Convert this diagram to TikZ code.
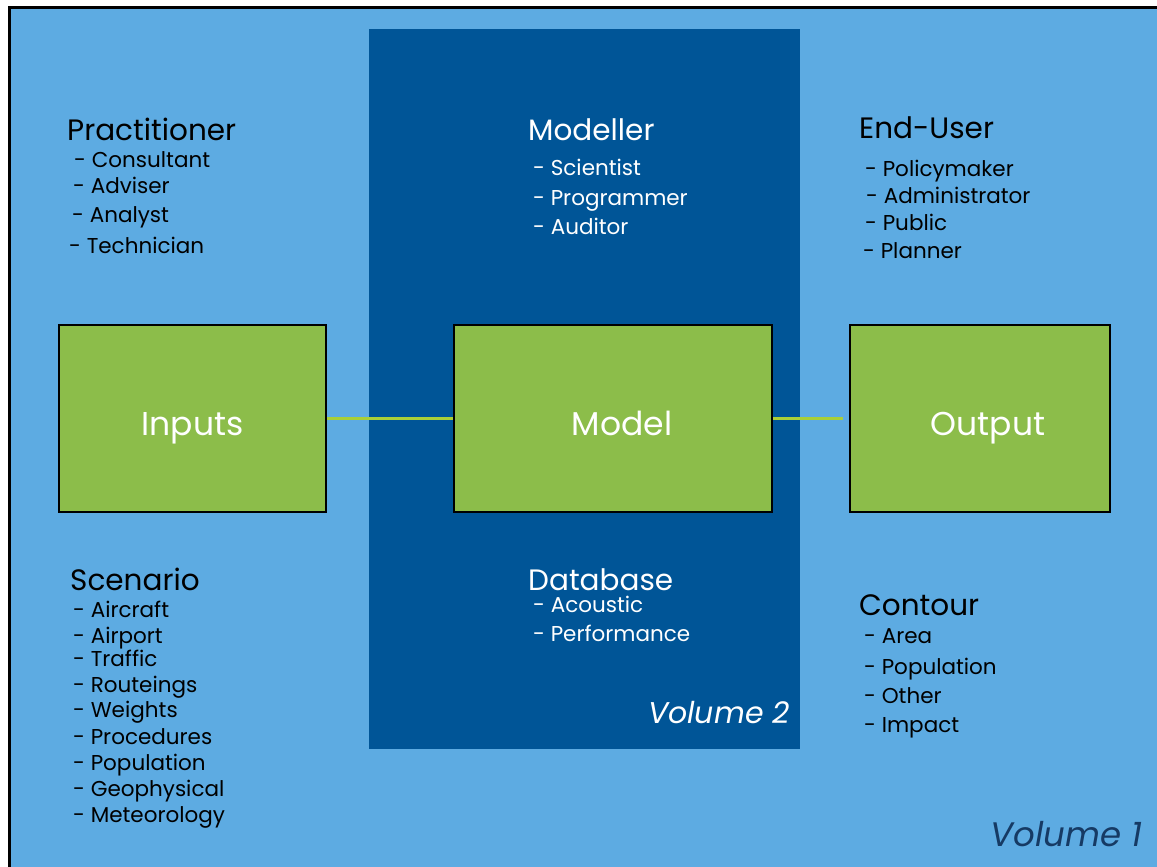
\documentclass[tikz,border=0pt]{standalone}
\usepackage{fontspec}
\setmainfont{Poppins}
\usepackage{tikz}
\usetikzlibrary{positioning}
\definecolor{AzulClaro}{RGB}{93,171,226}
\definecolor{AzulOscuro}{RGB}{0,85,151}
\definecolor{VerdeCaja}{RGB}{140,189,74}
\definecolor{VerdeLinea}{RGB}{169,207,56}
\definecolor{AzulTexto}{RGB}{22,58,100}

\tikzset{
  caja/.style={draw=black,line width=1.5pt,fill=VerdeCaja,minimum height=187pt,
    inner sep=0pt,text height=40pt,text depth=7pt,text=white,font=\fontsize{33}{36}\selectfont},
  titulo/.style={anchor=base west,inner sep=0pt,font=\fontsize{29.5}{32}\selectfont},
  item/.style={anchor=base west,inner sep=0pt,font=\fontsize{21.5}{24}\selectfont},
  enlace/.style={VerdeLinea,line width=2.5pt},
  volumen/.style={anchor=base east,inner sep=0pt,font=\itshape\fontsize{30}{34}\selectfont},
}

\begin{document}
\begin{tikzpicture}[x=1pt,y=-1pt]
  \useasboundingbox (0,0) rectangle (1157,867);
  \fill[white] (0,0) rectangle (1157,867);
  \fill[AzulClaro] (9.5,8) rectangle (1157,867);
  \draw[line width=3pt] (9.5,867) -- (9.5,8) -- (1157,8);
  \fill[AzulOscuro] (369,29) rectangle (800,749);

  % boxes
  \node[caja,minimum width=267pt] (inputs) at (192.5,418.5) {Inputs};
  \node[caja,minimum width=318pt] (model) at (613,418.5) {\hspace{18pt}Model};
  \node[caja,minimum width=260pt] (output) at (980,418.5) {\hspace{16pt}Output};
  \draw[enlace] (inputs.east) -- (model.west);
  \draw[enlace] (model.east) -- ([xshift=-6pt]output.west);

  % upper groups
  \node[titulo] (prac) at (67,140) {Practitioner};
  \foreach \x/\y/\t [count=\i] in {74/167/Consultant,73/193/Adviser,72/222/Analyst,69/253/Technician}
    \node[item] (prac-\i) at (\x,\y) {- \t};
  \node[titulo,text=white] (modeller) at (528,140) {Modeller};
  \foreach \y/\t [count=\i] in {175/Scientist,205/Programmer,234/Auditor}
    \node[item,text=white] (modeller-\i) at (533,\y) {- \t};
  \node[titulo] (enduser) at (859,139) {End-User};
  \foreach \x/\y/\t [count=\i] in {865/176/Policymaker,866/203/Administrator,865/230/Public,863/258/Planner}
    \node[item] (enduser-\i) at (\x,\y) {- \t};

  % lower groups
  \node[titulo] (scen) at (70,590) {Scenario};
  \foreach \y/\t [count=\i] in {617/Aircraft,643/Airport,666/Traffic,692/Routeings,717/Weights,
      744/Procedures,770/Population,796/Geophysical,822/Meteorology}
    \node[item] (scen-\i) at (73,\y) {- \t};
  \node[titulo,text=white] (database) at (528,590) {Database};
  \foreach \y/\t [count=\i] in {612/Acoustic,641/Performance}
    \node[item,text=white] (database-\i) at (533,\y) {- \t};
  \node[titulo] (contour) at (859,615) {Contour};
  \foreach \y/\t [count=\i] in {643/Area,674/Population,703/Other,732/Impact}
    \node[item] (contour-\i) at (864,\y) {- \t};

  \node[volumen,text=white] (vol2) at (790,723) {Volume 2};
  \node[volumen,text=AzulTexto,font=\itshape\fontsize{34}{38}\selectfont] (vol1) at (1143,846) {Volume 1};
\end{tikzpicture}
\end{document}
